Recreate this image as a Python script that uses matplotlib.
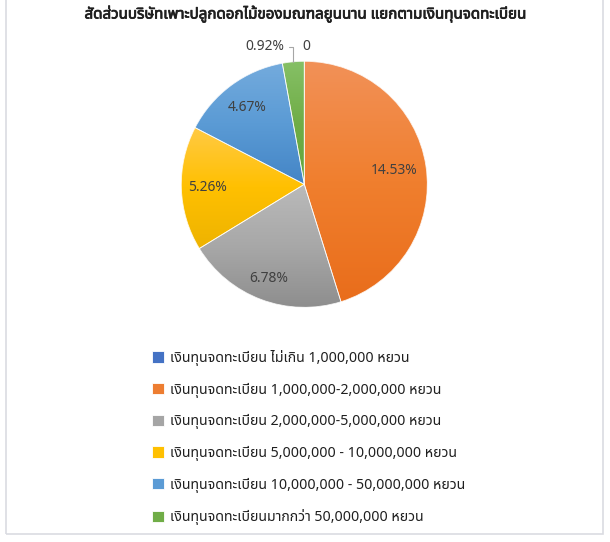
import numpy as np
import matplotlib
matplotlib.use("Agg")
import matplotlib.pyplot as plt
from matplotlib import font_manager
from matplotlib.ft2font import FT2Font
from matplotlib.colors import LinearSegmentedColormap
from matplotlib.patches import Rectangle, Wedge
import matplotlib.patheffects as pe

# data
title = "สัดส่วนบริษัทเพาะปลูกดอกไม้ของมณฑลยูนนาน แยกตามเงินทุนจดทะเบียน"
categories = ["เงินทุนจดทะเบียน ไม่เกิน 1,000,000 หยวน",
              "เงินทุนจดทะเบียน 1,000,000-2,000,000 หยวน",
              "เงินทุนจดทะเบียน 2,000,000-5,000,000 หยวน",
              "เงินทุนจดทะเบียน 5,000,000 - 10,000,000 หยวน",
              "เงินทุนจดทะเบียน 10,000,000 - 50,000,000 หยวน",
              "เงินทุนจดทะเบียนมากกว่า 50,000,000 หยวน"]
values = [0, 14.53, 6.78, 5.26, 4.67, 0.92]
value_labels = ["0", "14.53%", "6.78%", "5.26%", "4.67%", "0.92%"]

colors = ["#4472C4", "#ED7D31", "#A5A5A5", "#FFC000", "#5B9BD5", "#70AD47"]
grad = [("#6E8FD2", "#4472C4", "#3A62AC"),
        ("#F29158", "#F07F2E", "#E96D1B"),
        ("#BABABA", "#A8A8A8", "#8E8E8E"),
        ("#FFCA45", "#FFC000", "#EEB300"),
        ("#74ABDD", "#5B9BD5", "#4485C6"),
        ("#86C066", "#70AD47", "#62A53C")]


def find_thai_font():
    prefer = ["Tahoma", "Leelawadee UI", "Leelawadee", "Noto Sans Thai",
              "Noto Sans Thai UI", "Loma", "Garuda", "Waree", "Sarabun",
              "Norasi", "Kinnari", "Umpush", "Tlwg Typo"]
    found = {}
    for f in font_manager.fontManager.ttflist:
        try:
            cmap = FT2Font(f.fname).get_charmap()
        except Exception:
            continue
        if 0x0E07 in cmap and 0x0E19 in cmap:
            found.setdefault(f.name, f.fname)
    for p in prefer:
        if p in found:
            return p
    return next(iter(found), None)


thai = find_thai_font()
fams = ([thai] if thai else []) + ["DejaVu Sans"]
plt.rcParams["font.family"] = fams

W, H = 610, 542
fig = plt.figure(figsize=(W / 100, H / 100), dpi=100)
fig.patch.set_facecolor("white")

# outer frame
fig.patches.append(Rectangle((6 / W, 1 - 534 / H), 597 / W, 534 / H + 0.02,
                             transform=fig.transFigure, fill=False,
                             edgecolor="#DADCE2", linewidth=1.2))

cx, cy, r = 304.3, 184.3, 123
ax = fig.add_axes([(cx - r) / W, 1 - (cy + r) / H, 2 * r / W, 2 * r / H])
wedges, _ = ax.pie(values, colors=colors, startangle=90, counterclock=False,
                   wedgeprops=dict(edgecolor="white", linewidth=0.6))
ax.set_aspect("equal")
ax.axis("off")

# gradient fill per slice
for w, g in zip(wedges, grad):
    if w.theta2 - w.theta1 <= 0:
        continue
    bb = w.get_path().get_extents()
    cmap = LinearSegmentedColormap.from_list("g", list(g))
    img = ax.imshow(np.linspace(0, 1, 256).reshape(-1, 1), cmap=cmap,
                    extent=[bb.x0, bb.x1, bb.y0, bb.y1], origin="upper",
                    aspect="auto", zorder=w.get_zorder() + 0.1)
    img.set_clip_path(w)
    ax.add_patch(Wedge(w.center, w.r, w.theta1, w.theta2, facecolor="none",
                       edgecolor="white", linewidth=0.6, alpha=0.8,
                       zorder=w.get_zorder() + 0.2))
ax.set_xlim(-1, 1)
ax.set_ylim(-1, 1)

# inside labels
dist = [None, 0.74, 0.82, 0.79, 0.78, None]
for w, lab, d in zip(wedges, value_labels, dist):
    if d is None:
        continue
    a = np.deg2rad((w.theta1 + w.theta2) / 2)
    ax.text(d * np.cos(a), d * np.sin(a), lab, ha="center", va="center",
            fontsize=10, color="#404040", family=fams)

# outside labels
w0 = wedges[0]
a0 = np.deg2rad(w0.theta1)
ax.text(1.12 * np.cos(a0) + 0.02, 1.12 * np.sin(a0), value_labels[0],
        ha="center", va="center", fontsize=10, color="#404040", family=fams)

w5 = wedges[5]
a5 = np.deg2rad((w5.theta1 + w5.theta2) / 2)
ax.annotate(value_labels[5], xy=(np.cos(a5), np.sin(a5)),
            xytext=(-0.32, 1.12), ha="center", va="center",
            fontsize=10, color="#404040", family=fams,
            arrowprops=dict(arrowstyle="-", color="#A6A6A6", lw=0.8,
                            connectionstyle="angle,angleA=0,angleB=90,rad=0",
                            shrinkA=1, shrinkB=0))

fig.text(306 / W, 1 - 14 / H, title, ha="center", va="center",
         fontsize=10.9, color="#1F1F1F", family=fams,
         path_effects=[pe.withStroke(linewidth=0.55, foreground="#1F1F1F")])

leg = fig.legend(wedges, categories, loc="upper left",
                 bbox_to_anchor=(152 / W, 1 - 350 / H), frameon=False,
                 fontsize=10.2, handlelength=0.85, handleheight=0.85,
                 handletextpad=0.45, labelspacing=1.17, borderpad=0,
                 borderaxespad=0)
for t in leg.get_texts():
    t.set_color("#1F1F1F")

fig.savefig("out.png", dpi=100, facecolor="white")
